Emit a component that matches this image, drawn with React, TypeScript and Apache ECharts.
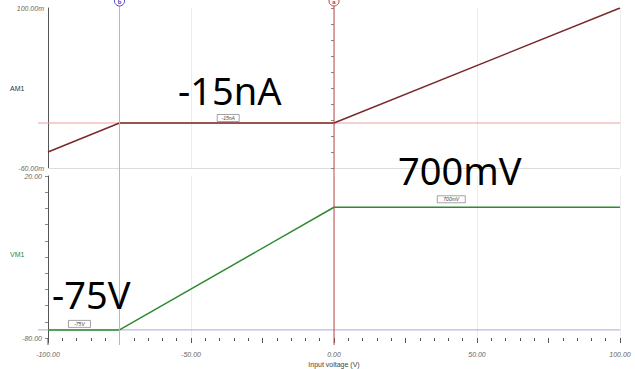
import React, { useEffect, useRef } from "react";
import * as echarts from "echarts";

const inputVoltage = [-100, -75, 0, 100];
const am1Values = [-44, -15, -15, 100];
const vm1Values = [-75, -75, 0.7, 0.7];
const cursorA = 0;
const cursorB = -75;
const am1Cursor = -15;
const vm1CursorB = -75;
const xTickLabels = ["-100.00", "-50.00", "0.00", "50.00", "100.00"];
const bigLabels = ["-15nA", "700mV", "-75V"];
const smallLabels = ["-15nA", "700mV", "-75V"];

const fmtX = (v: number) => {
  const s = v.toFixed(2);
  return xTickLabels.includes(s) ? s : "";
};

export default function App() {
  const ref = useRef<HTMLDivElement>(null);
  useEffect(() => {
    document.body.style.margin = "0";
    const chart = echarts.init(ref.current!, null, { renderer: "svg" });
    const axisFont = { fontSize: 7, color: "#666", fontStyle: "italic" as const, fontFamily: "Liberation Sans" };
    chart.setOption({
      animation: false,
      backgroundColor: "#fff",
      grid: [
        { left: 48, top: 8, width: 572, height: 160 },
        { left: 48, top: 176, width: 572, height: 162 },
      ],
      xAxis: [
        {
          type: "value", gridIndex: 0, min: -100, max: 100, interval: 50, position: "bottom",
          axisLine: { show: true, onZero: false, lineStyle: { color: "#dcdcdc" } },
          axisTick: { show: false }, axisLabel: { show: false },
          splitLine: { show: true, lineStyle: { color: "#ededed" } },
        },
        {
          type: "value", gridIndex: 1, min: -100, max: 100, interval: 5, position: "bottom",
          axisLine: { show: false, onZero: false },
          axisTick: { show: true, length: 3, lineStyle: { color: "#555" } },
          axisLabel: { ...axisFont, margin: 13, formatter: fmtX },
          splitLine: { show: false },
          name: "Input voltage (V)", nameLocation: "middle", nameGap: 23,
          nameTextStyle: { fontSize: 7, color: "#444", fontFamily: "Liberation Sans" },
        },
        {
          type: "value", gridIndex: 1, min: -100, max: 100, interval: 50, position: "bottom",
          axisLine: { show: false, onZero: false }, axisTick: { show: false },
          axisLabel: { show: false },
          splitLine: { show: true, lineStyle: { color: "#ededed" } },
        },
        {
          type: "value", gridIndex: 1, min: -100, max: 100, interval: 25, position: "bottom",
          axisLine: { show: false, onZero: false },
          axisTick: { show: true, length: 5, lineStyle: { color: "#555" } },
          axisLabel: { show: false }, splitLine: { show: false },
        },
      ],
      yAxis: [
        {
          type: "value", gridIndex: 0, min: -60, max: 100, interval: 20, position: "left",
          axisLine: { show: true, onZero: false, lineStyle: { color: "#555" } },
          axisTick: { show: false },
          axisLabel: { ...axisFont, margin: 4, formatter: (v: number) => (v === 100 ? "100.00m" : v === -60 ? "-60.00m" : "") },
          splitLine: { show: false },
        },
        {
          type: "value", gridIndex: 0, min: 0, max: 10, interval: 1, position: "left",
          axisLine: { show: false }, axisTick: { show: true, length: 3, lineStyle: { color: "#888" } },
          axisLabel: { show: false }, splitLine: { show: false },
        },
        {
          type: "value", gridIndex: 1, min: -80, max: 20, interval: 10, position: "left",
          axisLine: { show: true, onZero: false, lineStyle: { color: "#555" } },
          axisTick: { show: true, length: 3, lineStyle: { color: "#888" } },
          axisLabel: { ...axisFont, margin: 6, formatter: (v: number) => (v === 20 ? "20.00" : v === -80 ? "-80.00" : "") },
          splitLine: { show: false },
        },
      ],
      series: [
        {
          type: "line", xAxisIndex: 0, yAxisIndex: 0, symbol: "none",
          data: inputVoltage.map((x, i) => [x, am1Values[i]]),
          lineStyle: { color: "#7a2a2a", width: 1.5 },
          z: 5,
        },
        {
          type: "line", xAxisIndex: 1, yAxisIndex: 2, symbol: "none",
          data: inputVoltage.map((x, i) => [x, vm1Values[i]]),
          lineStyle: { color: "#2f8a2f", width: 1.5 },
          z: 5,
        },
      ],
    });

    const xa = chart.convertToPixel({ xAxisIndex: 1 }, cursorA) as number;
    const xb = chart.convertToPixel({ xAxisIndex: 1 }, cursorB) as number;
    const x0 = chart.convertToPixel({ xAxisIndex: 1 }, -100) as number;
    const x1 = chart.convertToPixel({ xAxisIndex: 1 }, 100) as number;
    const yTopBase = chart.convertToPixel({ yAxisIndex: 0 }, am1Cursor) as number;
    const yMid = chart.convertToPixel({ yAxisIndex: 2 }, vm1Values[2]) as number;
    const yLow = chart.convertToPixel({ yAxisIndex: 2 }, vm1CursorB) as number;
    const xMid = chart.convertToPixel({ xAxisIndex: 1 }, -37) as number;
    const xRight = chart.convertToPixel({ xAxisIndex: 1 }, 41) as number;
    const xLeft = chart.convertToPixel({ xAxisIndex: 1 }, -89) as number;

    const smallBox = (cx: number, cy: number, text: string, w: number) => ({
      type: "group", x: cx, y: cy, z: 20,
      children: [
        { type: "rect", shape: { x: -w / 2, y: -3.5, width: w, height: 7 }, style: { fill: "#fff", stroke: "#666", lineWidth: 0.6 } },
        { type: "text", style: { x: 0, y: 0, text, fontSize: 5, fill: "#444", align: "center", verticalAlign: "middle", fontFamily: "Liberation Sans", fontStyle: "italic" } },
      ],
    });

    const big = (x: number, y: number, text: string) => ({
      type: "text", z: 15,
      style: { x, y, text, fontSize: 38, lineHeight: 28, fill: "#000", verticalAlign: "middle", fontFamily: "Noto Sans" },
    });

    chart.setOption({
      graphic: [
        { type: "line", z: 1, shape: { x1: x0 - 10, y1: yTopBase, x2: x1, y2: yTopBase }, style: { stroke: "#eda0a0", lineWidth: 1 } },
        { type: "line", z: 1, shape: { x1: x0 - 10, y1: yLow, x2: x1, y2: yLow }, style: { stroke: "#a8a8d8", lineWidth: 1 } },
        { type: "line", z: 10, shape: { x1: xb, y1: 2, x2: xb, y2: 345 }, style: { stroke: "#b4b4d4", lineWidth: 1 } },
        { type: "line", z: 10, shape: { x1: xa, y1: 2, x2: xa, y2: 345 }, style: { stroke: "#c04848", lineWidth: 1 } },
        { type: "line", z: 10, shape: { x1: 48, y1: 338, x2: 48, y2: 345 }, style: { stroke: "#555", lineWidth: 1 } },
        { type: "circle", z: 11, shape: { cx: xb, cy: 1, r: 5 }, style: { fill: "#fff", stroke: "#5050c0", lineWidth: 1 } },
        { type: "text", z: 12, style: { x: xb, y: 2, text: "b", fontSize: 6, fontWeight: "bold", fill: "#4040c0", align: "center", verticalAlign: "middle", fontFamily: "Liberation Sans" } },
        { type: "circle", z: 11, shape: { cx: xa, cy: 1, r: 5 }, style: { fill: "#fff", stroke: "#c04040", lineWidth: 1 } },
        { type: "text", z: 12, style: { x: xa, y: 2, text: "a", fontSize: 6, fontWeight: "bold", fill: "#c03030", align: "center", verticalAlign: "middle", fontFamily: "Liberation Sans" } },
        { type: "text", z: 12, style: { x: 10, y: 88, text: "AM1", fontSize: 7, fill: "#333", verticalAlign: "middle", fontFamily: "Liberation Sans" } },
        { type: "text", z: 12, style: { x: 10, y: 254, text: "VM1", fontSize: 7, fill: "#2f8a2f", verticalAlign: "middle", fontFamily: "Liberation Sans" } },
        smallBox(xMid, yTopBase - 5, smallLabels[0], 22),
        smallBox(xRight, yMid - 8, smallLabels[1], 28),
        smallBox(xLeft, yLow - 6, smallLabels[2], 22),
        big(178, 90, bigLabels[0]),
        big(398, 170, bigLabels[1]),
        big(52, 294, bigLabels[2]),
      ],
    });
    return () => chart.dispose();
  }, []);
  return <div ref={ref} style={{ width: 635, height: 369 }} />;
}
